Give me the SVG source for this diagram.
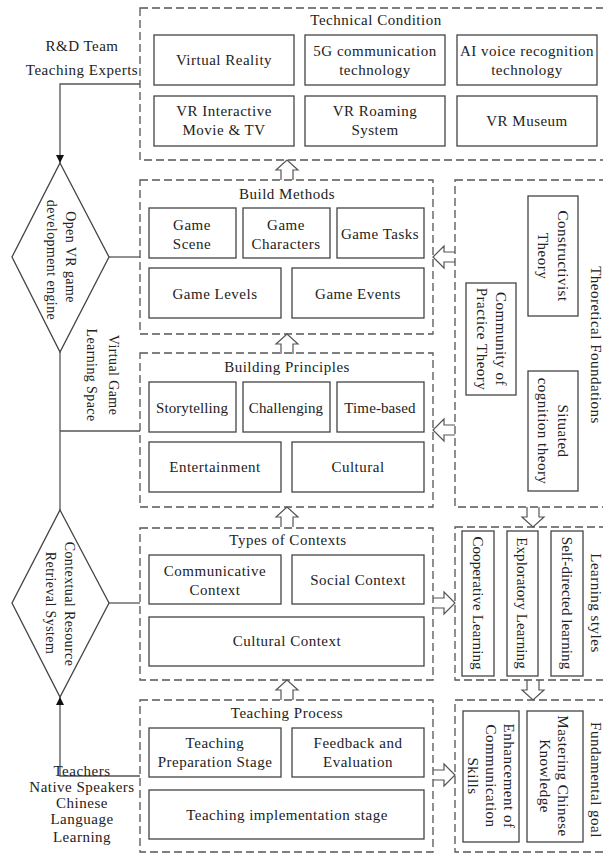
<svg xmlns="http://www.w3.org/2000/svg" width="603" height="854" viewBox="0 0 603 854">
<style>
.dash{fill:none;stroke:#555;stroke-width:1.3;stroke-dasharray:8 4}
.box{fill:#fff;stroke:#444;stroke-width:1.3}
.t{font-family:"Liberation Serif","Times New Roman",serif;font-size:15px;letter-spacing:0.5px;fill:#222;text-anchor:middle;dominant-baseline:central}
.s{font-size:14px;letter-spacing:0.4px}
.n{letter-spacing:0.1px}
.ha{fill:#fff;stroke:#555;stroke-width:1.2;stroke-linejoin:miter}
.ln{fill:none;stroke:#555;stroke-width:1.3}
.dm{fill:#fff;stroke:#444;stroke-width:1.3}
</style>
<defs>
<marker id="ah" viewBox="0 0 10 10" refX="10" refY="5" markerWidth="8" markerHeight="8" markerUnits="userSpaceOnUse" orient="auto">
<path d="M0,0 L10,5 L0,10 z" fill="#111"/>
</marker>
<path id="upA" d="M-6,20 L-6,10 L-11,10 L0,0 L11,10 L6,10 L6,20"/>
<path id="downA" d="M-6,0 L-6,10 L-11,10 L0,20 L11,10 L6,10 L6,0"/>
<path id="leftA" d="M22,-5 L11,-5 L11,-11 L0,0 L11,11 L11,5 L22,5"/>
<path id="rightA" d="M0,-5 L11,-5 L11,-11 L22,0 L11,11 L11,5 L0,5"/>
</defs>

<g id="connectors">
<polyline class="ln" points="140,84 60,84 60,163" marker-end="url(#ah)"/>
<line class="ln" x1="109" y1="257" x2="140" y2="257"/>
<line class="ln" x1="60" y1="352" x2="60" y2="510"/>
<line class="ln" x1="60" y1="431" x2="140" y2="431"/>
<line class="ln" x1="109" y1="603" x2="140" y2="603"/>
<polyline class="ln" points="140,776 60,776 60,697" marker-end="url(#ah)"/>
<use href="#upA" class="ha" x="287" y="160"/>
<use href="#upA" class="ha" x="287" y="334"/>
<use href="#upA" class="ha" x="287" y="507"/>
<use href="#upA" class="ha" x="287" y="680"/>
<use href="#downA" class="ha" x="533" y="507"/>
<use href="#downA" class="ha" x="533" y="680"/>
<use href="#leftA" class="ha" x="433" y="257"/>
<use href="#leftA" class="ha" x="433" y="430"/>
<use href="#rightA" class="ha" x="433" y="603"/>
<use href="#rightA" class="ha" x="433" y="775"/>
</g>

<g id="left-labels">
<text class="t" x="82" y="46">R&amp;D Team</text>
<text class="t" x="82" y="70">Teaching Experts</text>
<text class="t s" transform="translate(113,375) rotate(90)">Virtual Game</text>
<text class="t s" transform="translate(91,375) rotate(90)">Learning Space</text>
<text class="t" x="82" y="771">Teachers</text>
<text class="t" x="82" y="787">Native Speakers</text>
<text class="t" x="82" y="803">Chinese</text>
<text class="t" x="82" y="819">Language</text>
<text class="t" x="82" y="837">Learning</text>
</g>

<g id="diamond-engine">
<polygon class="dm" points="60,163 109,257 60,352 12,257"/>
<text class="t s" transform="translate(70,257) rotate(90)">Open VR game</text>
<text class="t s" transform="translate(51,260) rotate(90)">development engine</text>
</g>

<g id="diamond-retrieval">
<polygon class="dm" points="60,510 109,603 60,697 12,603"/>
<text class="t s" transform="translate(69,604) rotate(90)">Contextual Resource</text>
<text class="t s" transform="translate(50,603) rotate(90)">Retrieval System</text>
</g>

<g id="technical-condition">
<rect class="dash" x="140" y="8" width="470" height="152"/>
<text class="t" x="376" y="20">Technical Condition</text>
<rect class="box" x="154" y="35" width="140" height="50"/>
<text class="t" x="224" y="60">Virtual Reality</text>
<rect class="box" x="305" y="35" width="140" height="50"/>
<text class="t" x="375" y="51">5G communication</text>
<text class="t" x="375" y="70">technology</text>
<rect class="box" x="457" y="35" width="140" height="50"/>
<text class="t" x="527" y="51">AI voice recognition</text>
<text class="t" x="527" y="70">technology</text>
<rect class="box" x="154" y="96" width="140" height="50"/>
<text class="t" x="224" y="111">VR Interactive</text>
<text class="t" x="224" y="130">Movie &amp; TV</text>
<rect class="box" x="305" y="96" width="140" height="50"/>
<text class="t" x="375" y="111">VR Roaming</text>
<text class="t" x="375" y="130">System</text>
<rect class="box" x="457" y="96" width="140" height="50"/>
<text class="t" x="527" y="121">VR Museum</text>
</g>

<g id="build-methods">
<rect class="dash" x="140" y="180" width="293" height="154"/>
<text class="t" x="287" y="194">Build Methods</text>
<rect class="box" x="149" y="208" width="87" height="50"/>
<text class="t" x="192" y="225">Game</text>
<text class="t" x="192" y="244">Scene</text>
<rect class="box" x="243" y="208" width="87" height="50"/>
<text class="t" x="286" y="225">Game</text>
<text class="t" x="286" y="244">Characters</text>
<rect class="box" x="337" y="208" width="87" height="50"/>
<text class="t" x="380" y="234">Game Tasks</text>
<rect class="box" x="149" y="268" width="132" height="50"/>
<text class="t" x="215" y="294">Game Levels</text>
<rect class="box" x="292" y="268" width="132" height="50"/>
<text class="t" x="358" y="294">Game Events</text>
</g>

<g id="building-principles">
<rect class="dash" x="140" y="353" width="293" height="154"/>
<text class="t" x="287" y="367">Building Principles</text>
<rect class="box" x="149" y="382" width="87" height="50"/>
<text class="t n" x="192" y="408">Storytelling</text>
<rect class="box" x="243" y="382" width="87" height="50"/>
<text class="t n" x="286" y="408">Challenging</text>
<rect class="box" x="337" y="382" width="87" height="50"/>
<text class="t n" x="380" y="408">Time-based</text>
<rect class="box" x="149" y="442" width="132" height="50"/>
<text class="t" x="215" y="467">Entertainment</text>
<rect class="box" x="292" y="442" width="132" height="50"/>
<text class="t" x="358" y="467">Cultural</text>
</g>

<g id="types-of-contexts">
<rect class="dash" x="140" y="528" width="293" height="152"/>
<text class="t" x="288" y="540">Types of Contexts</text>
<rect class="box" x="149" y="555" width="132" height="49"/>
<text class="t" x="215" y="571">Communicative</text>
<text class="t" x="215" y="590">Context</text>
<rect class="box" x="292" y="555" width="132" height="49"/>
<text class="t" x="358" y="580">Social Context</text>
<rect class="box" x="149" y="617" width="275" height="49"/>
<text class="t" x="287" y="641">Cultural Context</text>
</g>

<g id="teaching-process">
<rect class="dash" x="140" y="700" width="293" height="152"/>
<text class="t" x="287" y="713">Teaching Process</text>
<rect class="box" x="149" y="728" width="132" height="49"/>
<text class="t" x="215" y="743">Teaching</text>
<text class="t" x="215" y="762">Preparation Stage</text>
<rect class="box" x="292" y="728" width="132" height="49"/>
<text class="t" x="358" y="743">Feedback and</text>
<text class="t" x="358" y="762">Evaluation</text>
<rect class="box" x="149" y="790" width="275" height="49"/>
<text class="t" x="287" y="815">Teaching implementation stage</text>
</g>

<g id="theoretical-foundations">
<rect class="dash" x="455" y="180" width="160" height="327"/>
<text class="t" transform="translate(596,345) rotate(90)">Theoretical Foundations</text>
<rect class="box" x="528" y="196" width="50" height="120"/>
<text class="t" transform="translate(563,256) rotate(90)">Constructivist</text>
<text class="t" transform="translate(543,256) rotate(90)">Theory</text>
<rect class="box" x="466" y="283" width="50" height="112"/>
<text class="t" transform="translate(501,339) rotate(90)">Community of</text>
<text class="t" transform="translate(482,339) rotate(90)">Practice Theory</text>
<rect class="box" x="528" y="371" width="50" height="120"/>
<text class="t" transform="translate(563,431) rotate(90)">Situated</text>
<text class="t" transform="translate(543,431) rotate(90)">cognition theory</text>
</g>

<g id="learning-styles">
<rect class="dash" x="455" y="527" width="160" height="153"/>
<text class="t" transform="translate(596,603) rotate(90)">Learning styles</text>
<rect class="box" x="462" y="531" width="32" height="145"/>
<text class="t n" transform="translate(478,603) rotate(90)">Cooperative Learning</text>
<rect class="box" x="507" y="531" width="31" height="145"/>
<text class="t n" transform="translate(522,603) rotate(90)">Exploratory Learning</text>
<rect class="box" x="551" y="531" width="32" height="145"/>
<text class="t n" transform="translate(567,603) rotate(90)">Self-directed learning</text>
</g>

<g id="fundamental-goal">
<rect class="dash" x="455" y="700" width="160" height="152"/>
<text class="t" transform="translate(596,780) rotate(90)">Fundamental goal</text>
<rect class="box" x="463" y="711" width="56" height="131"/>
<text class="t" transform="translate(509,776) rotate(90)">Enhancement of</text>
<text class="t" transform="translate(491,776) rotate(90)">Communication</text>
<text class="t" transform="translate(473,776) rotate(90)">Skills</text>
<rect class="box" x="527" y="711" width="56" height="131"/>
<text class="t" transform="translate(563,776) rotate(90)">Mastering Chinese</text>
<text class="t" transform="translate(545,776) rotate(90)">Knowledge</text>
</g>
</svg>
